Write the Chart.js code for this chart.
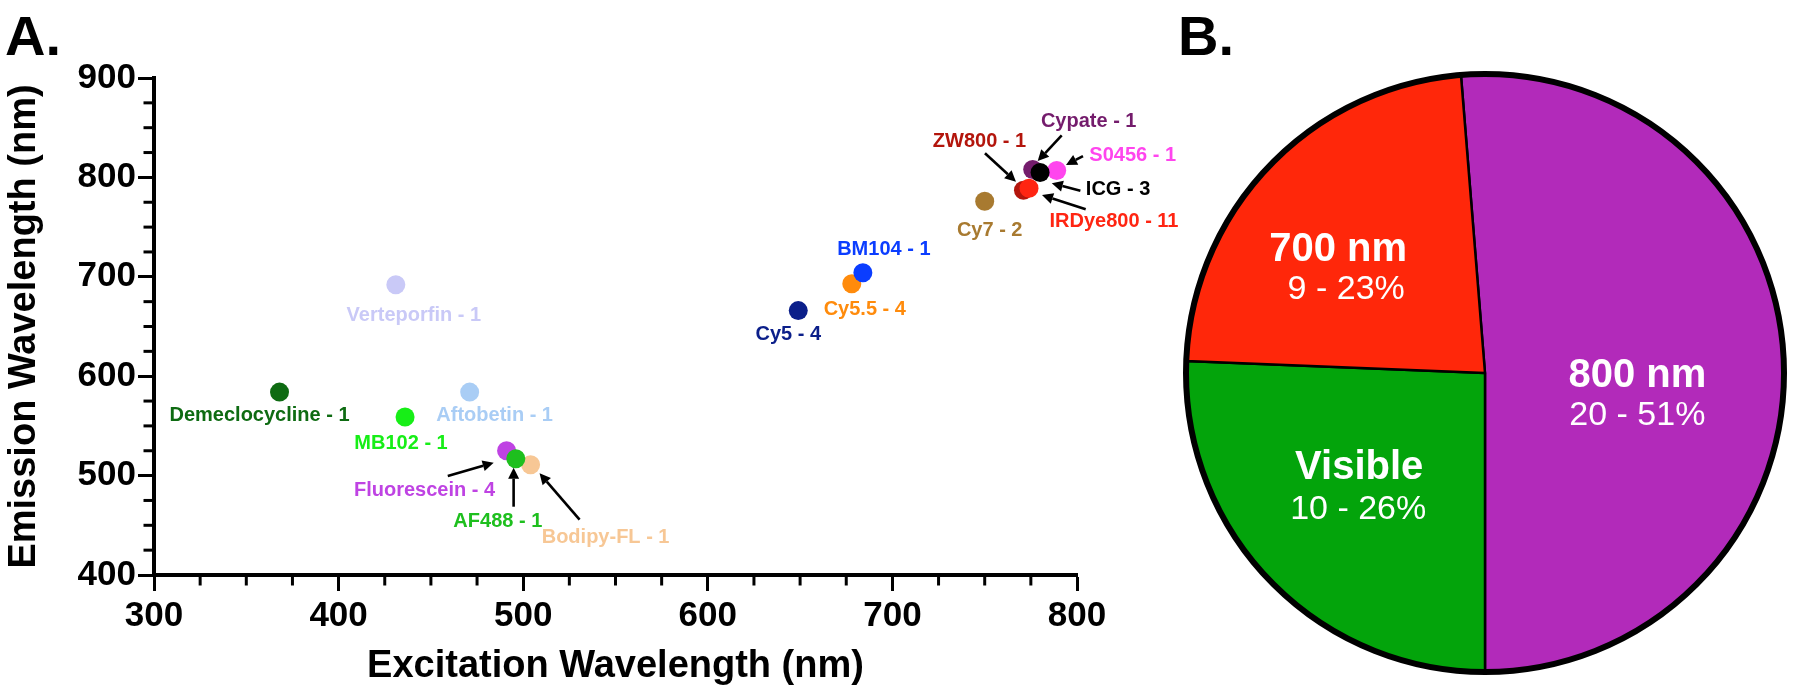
<!DOCTYPE html>
<html><head><meta charset="utf-8">
<script src="https://cdn.jsdelivr.net/npm/chart.js@4.4.1/dist/chart.umd.min.js"></script>
<style>
html,body{margin:0;padding:0;background:#fff;}
body{width:1800px;height:696px;position:relative;overflow:hidden;font-family:"Liberation Sans",Arial,sans-serif;}
#wrapA{position:absolute;left:0;top:0;width:1200px;height:696px;}
#wrapB{position:absolute;left:1150px;top:0;width:650px;height:696px;}
.panel{position:absolute;font-weight:bold;font-size:56px;line-height:56px;color:#000;}
</style></head>
<body>
<div id="wrapB"><canvas id="pie" width="650" height="696"></canvas></div>
<div id="wrapA"><canvas id="scatter" width="1200" height="696"></canvas></div>
<div class="panel" style="left:5px;top:8px;">A.</div>
<div class="panel" style="left:1178px;top:8px;">B.</div>
<script>
// ---------- data ----------
const dyes       = ['Verteporfin','Demeclocycline','MB102','Aftobetin','Bodipy-FL','Fluorescein','AF488','Cy5','Cy5.5','BM104','Cy7','Cypate','S0456','ICG','ZW800','IRDye800'];
const counts     = [1,1,1,1,1,4,1,4,4,1,2,1,1,3,1,11];
const excitation = [431,368,436,471,504,491,496,649,678,684,750,776,789,780,771,774];
const emission   = [692,584,559,584,511,525,517,666,693,704,776,808,807,805,787,789];
const dyeColors  = ['#C9C9F7','#0E6B12','#17EE17','#A9CDF5','#F7C795','#BF43E3','#1EBF1E','#0B1F8A','#FF8B0C','#0B3DFF','#A87A30','#741C6C','#FF45EE','#000000','#B3150C','#FF2512'];
const xTicks = [300,400,500,600,700,800];
const yTicks = [400,500,600,700,800,900];
const minorStep = 25;

const pieLabels = ['800 nm','Visible','700 nm'];
const pieCounts = [20,10,9];
const pieColors = ['#B22ABA','#03A40B','#FF270A'];

// ---------- annotation layout (pixel offsets from each point) ----------
const labelLayout = {
  'Verteporfin':   {lx:18,  ly:29},
  'Demeclocycline':{lx:-20, ly:22},
  'MB102':         {lx:-4,  ly:25},
  'Aftobetin':     {lx:25,  ly:22},
  'Bodipy-FL':     {lx:75,  ly:71, a:[49,55,9,8.6]},
  'Fluorescein':   {lx:-82, ly:38, a:[-58.8,25.2,-12.9,11.9]},
  'AF488':         {lx:-18, ly:61, a:[-2.2,48,-2.2,9]},
  'Cy5':           {lx:-10, ly:22},
  'Cy5.5':         {lx:13,  ly:24},
  'BM104':         {lx:21,  ly:-24.5},
  'Cy7':           {lx:5,   ly:28},
  'Cypate':        {lx:56,  ly:-49.4, a:[29,-34,5,-8.4]},
  'S0456':         {lx:76,  ly:-16.4, a:[26.3,-14.4,9.3,-5.4]},
  'ICG':           {lx:78,  ly:15.6, a:[40.3,18.3,11.7,10.9]},
  'ZW800':         {lx:-44, ly:-50, a:[-38.5,-37,-7.5,-8.6]},
  'IRDye800':      {lx:85,  ly:31.7, a:[56.7,21,13,6.7]}
};
const FONT = '"Liberation Sans", Arial, sans-serif';

function drawArrow(ctx, x1, y1, x2, y2){
  const ang = Math.atan2(y2-y1, x2-x1), L = 11, W = 5.5;
  const bx = x2 - L*Math.cos(ang), by = y2 - L*Math.sin(ang);
  ctx.beginPath(); ctx.moveTo(x1,y1); ctx.lineTo(bx,by); ctx.stroke();
  ctx.beginPath(); ctx.moveTo(x2,y2);
  ctx.lineTo(bx + W*Math.sin(ang), by - W*Math.cos(ang));
  ctx.lineTo(bx - W*Math.sin(ang), by + W*Math.cos(ang));
  ctx.closePath(); ctx.fill();
}

const minorTicksPlugin = {
  id:'minorTicks',
  afterDraw(chart){
    const {ctx} = chart; const xs = chart.scales.x, ys = chart.scales.y;
    ctx.save(); ctx.strokeStyle = '#000'; ctx.lineWidth = 3;
    for (let v = xs.min + minorStep; v < xs.max; v += minorStep){
      if (xTicks.includes(v)) continue;
      const p = xs.getPixelForValue(v);
      ctx.beginPath(); ctx.moveTo(p, ys.bottom); ctx.lineTo(p, ys.bottom + 10.5); ctx.stroke();
    }
    for (let v = ys.min + minorStep; v < ys.max; v += minorStep){
      if (yTicks.includes(v)) continue;
      const p = ys.getPixelForValue(v);
      ctx.beginPath(); ctx.moveTo(xs.left, p); ctx.lineTo(xs.left - 10.5, p); ctx.stroke();
    }
    ctx.restore();
  }
};

const labelPlugin = {
  id:'dyeLabels',
  afterDatasetsDraw(chart){
    const {ctx} = chart; const meta = chart.getDatasetMeta(0);
    ctx.save();
    ctx.font = 'bold 20px ' + FONT; ctx.textAlign = 'center'; ctx.textBaseline = 'alphabetic';
    ctx.strokeStyle = '#000'; ctx.fillStyle = '#000'; ctx.lineWidth = 2.6; ctx.lineCap = 'butt';
    meta.data.forEach((pt, i) => {
      const lay = labelLayout[dyes[i]]; if (!lay) return;
      if (lay.a){
        ctx.fillStyle = '#000';
        drawArrow(ctx, pt.x + lay.a[0], pt.y + lay.a[1], pt.x + lay.a[2], pt.y + lay.a[3]);
      }
      ctx.fillStyle = dyeColors[i];
      ctx.fillText(dyes[i] + ' - ' + counts[i], pt.x + lay.lx, pt.y + lay.ly + 7);
    });
    ctx.restore();
  }
};

const tickFont = {family: FONT, size: 35, weight: 'bold'};
const titleFont = {family: FONT, size: 38, weight: 'bold'};

new Chart(document.getElementById('scatter'), {
  type: 'scatter',
  data: { datasets: [{
    data: excitation.map((x, i) => ({x: x, y: emission[i]})),
    pointBackgroundColor: dyeColors,
    pointBorderWidth: 0,
    pointRadius: 9.5,
    pointHoverRadius: 9.5
  }]},
  options: {
    responsive: false, animation: false,
    layout: {padding: {left: 0, top: 78, right: 123, bottom: 0}},
    plugins: {legend: {display: false}, tooltip: {enabled: false}},
    scales: {
      x: {
        type: 'linear', min: 300, max: 800,
        afterBuildTicks(s){ s.ticks = xTicks.map(v => ({value: v})); },
        ticks: {font: tickFont, color: '#000', padding: 4, maxRotation: 0, autoSkip: false},
        grid: {drawOnChartArea: false, tickLength: 16, tickWidth: 3, tickColor: '#000', color: '#000'},
        border: {display: true, width: 4, color: '#000'},
        title: {display: true, text: 'Excitation Wavelength (nm)', font: titleFont, color: '#000', padding: {top: 0, bottom: 7}},
        afterFit(s){ s.height = 121; }
      },
      y: {
        type: 'linear', min: 400, max: 900,
        afterBuildTicks(s){ s.ticks = yTicks.map(v => ({value: v})); },
        ticks: {font: tickFont, color: '#000', padding: 2, autoSkip: false},
        grid: {drawOnChartArea: false, tickLength: 16, tickWidth: 3, tickColor: '#000', color: '#000'},
        border: {display: true, width: 4, color: '#000'},
        title: {display: true, text: 'Emission Wavelength (nm)', font: titleFont, color: '#000', padding: {top: 2, bottom: 0}},
        afterFit(s){ s.width = 154; }
      }
    }
  },
  plugins: [minorTicksPlugin, labelPlugin]
});

// ---------- pie ----------
const pieTotal = pieCounts.reduce((a, b) => a + b, 0);
const pieTextOffsets = [
  {nx: 3,   ny: 6,   vx: 3,   vy: 46},
  {nx: -18, ny: -12, vx: -19, vy: 30},
  {nx: -39, ny: -22, vx: -31, vy: 18}
];
const pieDecor = {
  id:'pieDecor',
  afterDatasetsDraw(chart){
    const {ctx} = chart; const arcs = chart.getDatasetMeta(0).data;
    const a0 = arcs[0];
    ctx.save();
    ctx.strokeStyle = '#000'; ctx.lineWidth = 6;
    ctx.beginPath(); ctx.arc(a0.x, a0.y, a0.outerRadius, 0, Math.PI * 2); ctx.stroke();
    ctx.fillStyle = '#fff'; ctx.textAlign = 'center'; ctx.textBaseline = 'alphabetic';
    arcs.forEach((arc, i) => {
      const c = arc.getCenterPoint();
      const o = pieTextOffsets[i];
      const pct = Math.round(pieCounts[i] / pieTotal * 100);
      ctx.font = 'bold 40px ' + FONT;
      ctx.fillText(pieLabels[i], c.x + o.nx, c.y + o.ny + 14);
      ctx.font = '34px ' + FONT;
      ctx.fillText(pieCounts[i] + ' - ' + pct + '%', c.x + o.vx, c.y + o.vy + 12);
    });
    ctx.restore();
  }
};

new Chart(document.getElementById('pie'), {
  type: 'pie',
  data: {labels: pieLabels, datasets: [{
    data: pieCounts, backgroundColor: pieColors,
    borderColor: '#000', borderWidth: 2.5, borderAlign: 'center', hoverOffset: 0
  }]},
  options: {
    responsive: false, animation: false,
    rotation: 180 - 360 * pieCounts[0] / pieTotal,
    radius: 299,
    layout: {padding: {left: 30, right: 10, top: 60, bottom: 10}},
    plugins: {legend: {display: false}, tooltip: {enabled: false}}
  },
  plugins: [pieDecor]
});
</script>
</body></html>
